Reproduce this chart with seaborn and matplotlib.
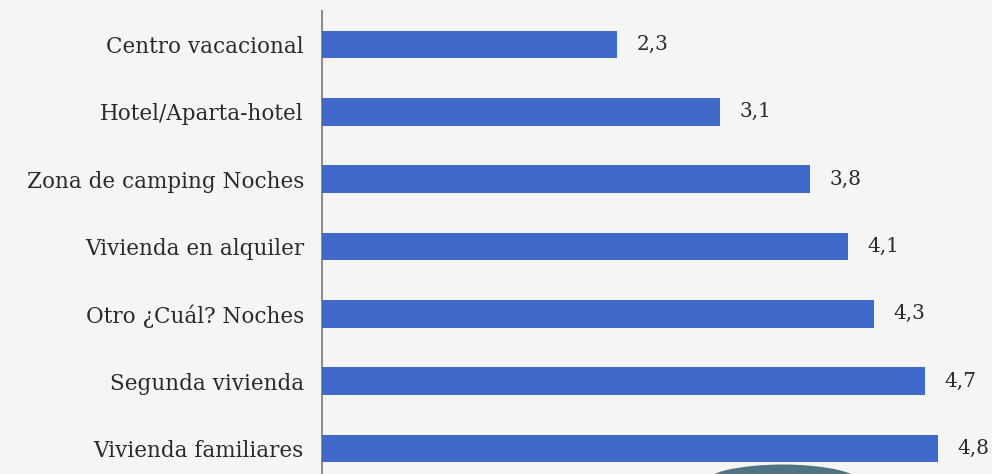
import matplotlib
matplotlib.use("Agg")
import matplotlib.pyplot as plt
from matplotlib.patches import Ellipse
import seaborn as sns
import pandas as pd

categories = [
    "Centro vacacional",
    "Hotel/Aparta-hotel",
    "Zona de camping Noches",
    "Vivienda en alquiler",
    "Otro ¿Cuál? Noches",
    "Segunda vivienda",
    "Vivienda familiares",
]
noches = [2.3, 3.1, 3.8, 4.1, 4.3, 4.7, 4.8]

df = pd.DataFrame({"tipo": categories, "noches": noches})

sns.set_theme(style="white")
plt.rcParams["font.family"] = ["DejaVu Serif"]

bg = "#f5f5f4"
fig = plt.figure(figsize=(9.92, 4.74), dpi=100, facecolor=bg)
ax = fig.add_axes([0.3246, -0.017, 0.66, 0.994])
ax.set_facecolor("none")

sns.barplot(data=df, x="noches", y="tipo", orient="h", color="#4169c9",
            width=0.41, saturation=1, linewidth=0, ax=ax, zorder=3)

ax.set_xlim(0, 5.1)
ax.set_ylim(6.5, -0.5)
ax.set_xlabel("")
ax.set_ylabel("")
ax.set_xticks([])
for side in ["top", "right", "bottom"]:
    ax.spines[side].set_visible(False)
ax.spines["left"].set_color("#8a8a8a")
ax.spines["left"].set_linewidth(1.4)
ax.tick_params(axis="y", length=0, pad=13, labelsize=15.5, labelcolor="#2a2a2a")

for i, v in enumerate(noches):
    ax.text(v + 0.15, i, f"{v:.1f}".replace(".", ","), va="center", ha="left",
            fontsize=14.5, color="#2a2a2a", zorder=4)

# decorative dark shape at the lower edge
fig.patches.append(Ellipse((0.789, -0.02), 0.16, 0.08, transform=fig.transFigure,
                           facecolor="#4d7480", edgecolor="none", zorder=0))

fig.savefig("out.png", dpi=100, facecolor=bg)
